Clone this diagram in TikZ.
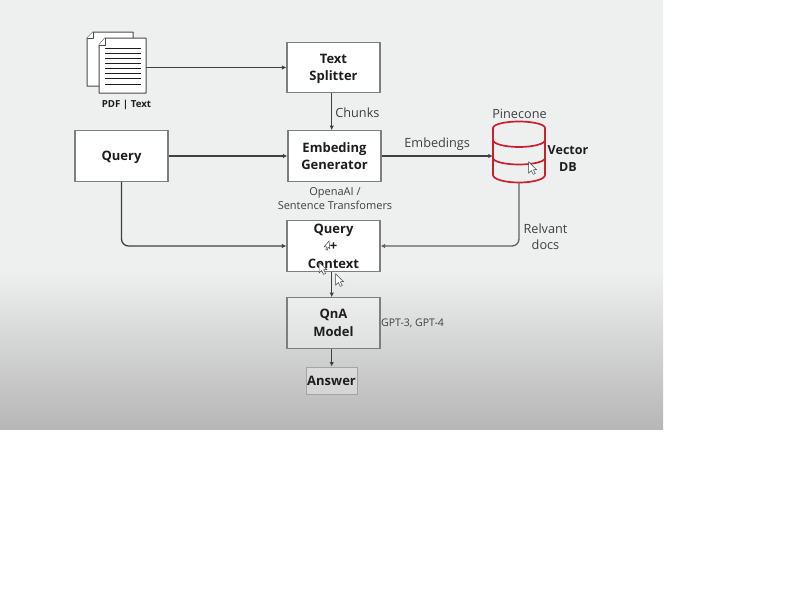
\documentclass[tikz,border=0pt]{standalone}
\usepackage{fontspec}
\setmainfont{Open Sans}
\usetikzlibrary{arrows.meta}
\definecolor{paper}{HTML}{EEF0EF}
\definecolor{paperlow}{HTML}{B5B6B5}
\definecolor{frame}{HTML}{7C7F7F}
\definecolor{ink}{HTML}{1E1E1E}
\definecolor{note}{HTML}{3E4040}
\definecolor{dbred}{HTML}{C8202F}
\tikzset{
  block/.style={draw=frame,line width=1.2pt,fill=white,text=ink,inner sep=0pt,
    minimum width=93pt,minimum height=50.5pt,align=center,text depth=0pt,
    font=\bfseries\fontsize{13}{17.5}\selectfont},
  dimblock/.style={block,fill=white,fill opacity=.3,text opacity=1},
  remark/.style={text=note,align=center,inner sep=0pt,
    font=\fontsize{12.7}{15.5}\selectfont},
  smallremark/.style={remark,font=\fontsize{11}{14}\selectfont},
  flow/.style={draw=ink!85,line width=1.3pt,-{Latex[length=4.5pt,width=4.5pt]}},
  pagesheet/.style={draw=ink!80,line width=1pt,fill=white,line join=round},
  cylline/.style={draw=dbred,line width=1.7pt,line join=round},
  pics/pointer/.style={code={
    \draw[draw=note,fill=white,line width=.5pt] (0,0) -- (0,11) -- (2.6,8.6)
      -- (4.6,12.4) -- (6.6,11.4) -- (4.6,7.8) -- (7.8,7.6) -- cycle;}},
}
\begin{document}
\begin{tikzpicture}[x=1pt,y=-1pt]
\useasboundingbox (0,0) rectangle (800,600);
\fill[paper] (0,0) rectangle (663,272);
\shade[top color=paper,bottom color=paperlow] (0,271) rectangle (663,429.7);
\coordinate (Axis) at (331.7,0);

% document icon
\draw[pagesheet] (93,32) -- (133,32) -- (133,86) -- (87,86) -- (87,38) -- cycle;
\draw[pagesheet] (93,32) -- (93,38) -- (87,38);
\node[inner sep=0pt,minimum width=47pt,minimum height=55pt] (Page) at (122.5,65.5) {};
\draw[pagesheet] (105,38) -- (146,38) -- (146,93) -- (99,93) -- (99,45) -- cycle;
\draw[pagesheet] (105,38) -- (105,45) -- (99,45);
\foreach \y in {48.3,53.4,...,85}
  \draw[ink,line width=1pt] (105,\y) -- (141,\y);
\node[text=ink,inner sep=0pt,font=\bfseries\fontsize{9.7}{11}\selectfont] (PageLabel) at (126.5,105) {PDF | Text};

\node[block] (Splitter) at (333.5,67.5) {Text\\Splitter};
\node[block] (Embeding) at (334.5,156) {Embeding\\Generator};
\node[block] (Query) at (121.5,156) {Query};
\node[block] (Context) at (333.5,246) {Query\\+\\Context};
\node[dimblock] (Model) at (333.5,323) {QnA\\Model};
\node[dimblock,draw=frame!70,line width=1pt,minimum width=51pt,minimum height=27pt] (Answer) at (331.5,380.5) {Answer};

% vector store
\node[inner sep=0pt,minimum width=52pt,minimum height=60pt] (Db) at (519,152) {};
\draw[cylline] (493,128) arc[start angle=180,end angle=360,x radius=26,y radius=6.5]
  -- (545,175) arc[start angle=0,end angle=180,x radius=26,y radius=7.5] -- cycle;
\draw[cylline] (493,140) arc[start angle=180,end angle=0,x radius=26,y radius=7];
\draw[cylline] (493,158) arc[start angle=180,end angle=0,x radius=26,y radius=6.5];
\node[remark] (DbName) at (519.5,114) {Pinecone};
\node[text=ink,inner sep=0pt,align=center,font=\bfseries\fontsize{12.5}{17}\selectfont] (DbKind) at (568,158.5) {Vector\\DB};

\draw[flow] (Page.east |- Splitter) -- (Splitter);
\draw[flow] (Splitter.south -| Axis) -- (Embeding.north -| Axis) node[pos=.53,right=3pt,remark] {Chunks};
\draw[flow] (Query) -- (Embeding);
\draw[flow] (Embeding.east) -- (Embeding.east -| Db.west) node[midway,above=4.5pt,remark] {Embedings};
\draw[flow,rounded corners=7pt] (Query) |- (Context);
\draw[flow,rounded corners=7pt,draw=ink!70] (Db.south) |- (Context);
\draw[flow] (Context.south -| Axis) -- (Model.north -| Axis);
\draw[flow] (Model.south -| Axis) -- (Answer.north -| Axis);

\node[smallremark] (Provider) at (335,199) {OpenaAI /\\Sentence Transfomers};
\node[remark] (Docs) at (545.5,236.5) {Relvant\\docs};
\node[smallremark,font=\fontsize{10.5}{14}\selectfont,anchor=west] (Gpt) at (381,323) {GPT-3, GPT-4};

\pic at (335.7,274) {pointer};
\pic at (319,262) {pointer};
\pic at (528.7,162) {pointer};
\pic[rotate=-40,scale=.7] at (329,241) {pointer};
\end{tikzpicture}
\end{document}
